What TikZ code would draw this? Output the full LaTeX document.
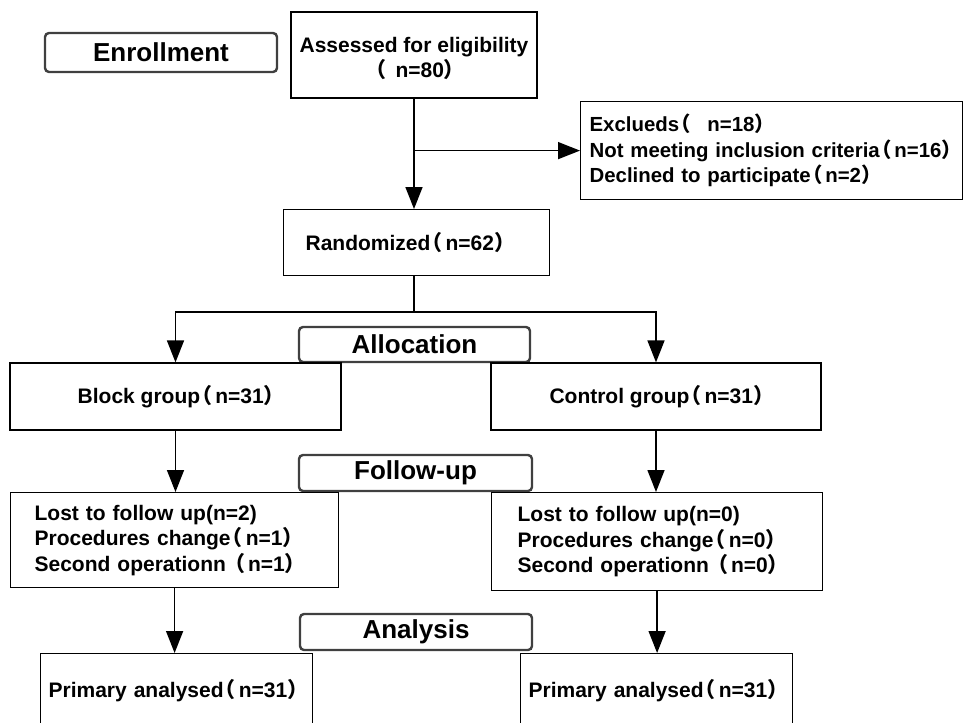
\documentclass[tikz,border=0pt]{standalone}
\usepackage{fontspec}
\setmainfont{Liberation Sans}
\newfontfamily\cjk{Noto Sans CJK SC}
\usetikzlibrary{arrows.meta}
\newcommand{\lp}{{\cjk\kern-0.42em （\kern0.14em}}
\newcommand{\rp}{{\cjk ）\kern-0.55em}}
\begin{document}
\begin{tikzpicture}[x=1pt,y=-1pt,
  body/.style={font=\fontsize{21}{25.5}\selectfont\bfseries},
  box/.style={draw, line width=1.2pt, body, inner sep=0pt},
  phase/.style={draw=black!75, line width=2.4pt, rounded corners=4pt,
    font=\fontsize{26}{30}\selectfont\bfseries, inner sep=0pt},
  arr/.style={line width=1.5pt, -{Triangle[length=22pt,width=17pt]}},
  ln/.style={line width=1.5pt}]
\clip (0,0) rectangle (964,723);
\useasboundingbox (0,0) rectangle (964,723);

% phase labels
\node[phase, minimum width=232pt, minimum height=39pt] (enr) at (161,52.5) {Enrollment};
\node[phase, minimum width=231pt, minimum height=35pt] (alloc) at (414.5,344.5) {Allocation};
\node[phase, minimum width=233pt, minimum height=36pt] (fup) at (415.5,473) {Follow-up};
\node[phase, minimum width=232pt, minimum height=36pt] (ana) at (416,632) {Analysis};

% boxes
\node[box, minimum width=246pt, minimum height=86pt, align=center] (assess) at (414,55)
  {\rule{0pt}{22pt}Assessed for eligibility\\\lp\ n=80\rp};
\node[box, anchor=north west, text width=364pt, inner xsep=9pt, minimum height=98pt, align=left,
      font=\fontsize{20.4}{25.5}\selectfont\bfseries] (excl) at (580,101)
  {\mbox{Exclueds\lp\ \ n=18\rp}\\\mbox{Not meeting inclusion criteria\lp n=16\rp}\\\mbox{Declined to participate\lp n=2\rp}};
\node[box, anchor=north west, text width=222pt, inner xsep=22pt, minimum height=66pt, align=left] (rand) at (283,209)
  {\mbox{Randomized\lp n=62\rp}};
\node[box, minimum width=331pt, minimum height=67pt] (block) at (175.5,396.5) {Block group\lp n=31\rp};
\node[box, minimum width=330pt, minimum height=67pt] (control) at (656,396.5) {Control group\lp n=31\rp};
\node[box, anchor=north west, text width=280pt, inner xsep=24pt, minimum height=95pt, align=left] (lf) at (10,492)
  {\mbox{Lost to follow up(n=2)}\\\mbox{Procedures change\lp n=1\rp}\\\mbox{Second operationn \lp n=1\rp}};
\node[box, anchor=north west, text width=279pt, inner xsep=26pt, minimum height=98pt, align=left] (rf) at (491,492)
  {\mbox{Lost to follow up(n=0)}\\\mbox{Procedures change\lp n=0\rp}\\\mbox{Second operationn \lp n=0\rp}};
\node[box, anchor=north west, text width=256pt, inner xsep=8pt, minimum height=74pt, align=left] (pa) at (40,653)
  {\mbox{Primary analysed\lp n=31\rp}};
\node[box, anchor=north west, text width=256pt, inner xsep=8pt, minimum height=74pt, align=left] (pb) at (520,653)
  {\mbox{Primary analysed\lp n=31\rp}};

% connectors
\draw[arr] (assess.south) -- (assess.south |- rand.north);
\draw[arr] (assess.south |- excl.west) -- (excl.west);
\draw[ln] (rand.south -| assess.south) -- ++(0,36) coordinate (split);
\draw[arr] (split) -| (block.north);
\draw[arr] (split) -| (control.north);
\draw[arr] (block.south) -- (block.south |- lf.north);
\draw[arr] (control.south) -- (control.south |- rf.north);
\draw[arr] (lf.south) -- (lf.south |- pa.north);
\draw[arr] (rf.south) -- (rf.south |- pb.north);
\end{tikzpicture}
\end{document}
